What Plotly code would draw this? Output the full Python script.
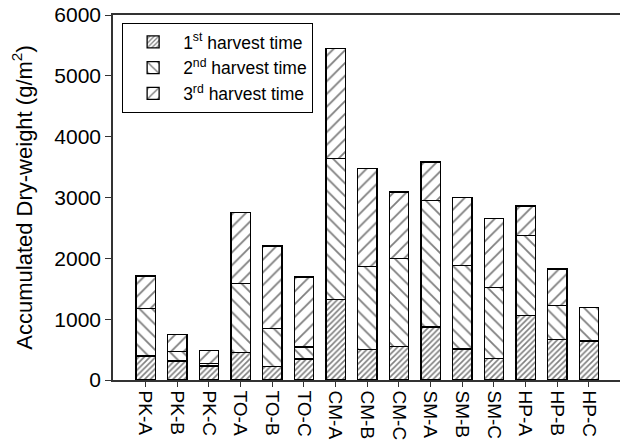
import plotly.graph_objects as go

categories = ["PK-A", "PK-B", "PK-C", "TO-A", "TO-B", "TO-C", "CM-A", "CM-B",
              "CM-C", "SM-A", "SM-B", "SM-C", "HP-A", "HP-B", "HP-C"]
harvest1 = [395, 312, 230, 450, 225, 345, 1321, 498, 553, 872, 510, 350, 1063, 663, 642]
harvest2 = [783, 153, 43, 1137, 625, 198, 2324, 1372, 1442, 2082, 1375, 1168, 1315, 565, 548]
harvest3 = [532, 285, 209, 1168, 1354, 1151, 1805, 1605, 1095, 632, 1110, 1135, 484, 598, 0]
series_names = ["1<sup>st</sup> harvest time", "2<sup>nd</sup> harvest time", "3<sup>rd</sup> harvest time"]
y_ticks = [0, 1000, 2000, 3000, 4000, 5000, 6000]

FONT = "Liberation Sans, Arial, sans-serif"
patterns = [dict(shape="/", size=4, solidity=0.4),
            dict(shape="\\", size=9, solidity=0.2),
            dict(shape="/", size=9, solidity=0.2)]

fig = go.Figure()
for name, vals, pat in zip(series_names, [harvest1, harvest2, harvest3], patterns):
    fig.add_trace(go.Bar(
        x=list(range(len(categories))), y=vals, name=name, width=0.616,
        marker=dict(color="white", line=dict(color="black", width=1.3),
                    pattern=dict(shape=pat["shape"], size=pat["size"], solidity=pat["solidity"],
                                 fgcolor="black", bgcolor="white", fillmode="overlay")),
    ))

fig.update_layout(
    width=620, height=441,
    margin=dict(l=113, r=0, t=15, b=61, autoexpand=False),
    barmode="stack",
    plot_bgcolor="white", paper_bgcolor="white",
    font=dict(family=FONT, size=20, color="black"),
    showlegend=True,
    legend=dict(x=0.018, y=0.978, xanchor="left", yanchor="top",
                bordercolor="black", borderwidth=1, bgcolor="white",
                traceorder="normal", font=dict(size=17.5), tracegroupgap=0,
                itemwidth=50),
    xaxis=dict(range=[-1.03, 14.98], tickmode="array",
               tickvals=list(range(len(categories))), ticktext=categories,
               tickangle=90, ticks="outside", ticklen=5, tickcolor="#333",
               showline=True, linecolor="#333", linewidth=1.5, mirror=True,
               showgrid=False, zeroline=False, tickfont=dict(size=19),
               automargin=False),
    yaxis=dict(range=[0, 6000], tickmode="array", tickvals=y_ticks,
               ticks="outside", ticklen=6, tickcolor="#333",
               showline=True, linecolor="#333", linewidth=1.5,
               showgrid=False, zeroline=False, tickfont=dict(size=21),
               automargin=False,
               title=dict(text="Accumulated Dry-weight (g/m<sup>2</sup>)",
                          font=dict(size=22), standoff=16)),
)

fig.write_html("out.html", config={"displayModeBar": False},
               post_script="document.body.style.margin='0';document.body.style.overflow='hidden';")
